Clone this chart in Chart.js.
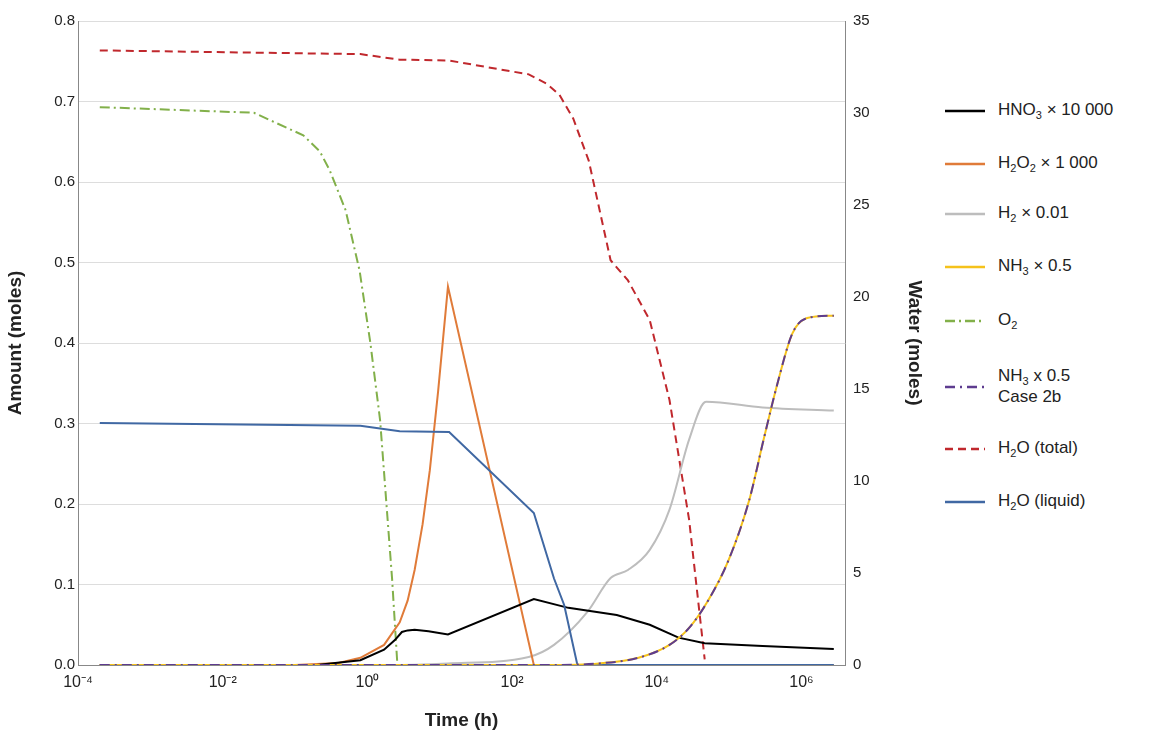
<!DOCTYPE html>
<html>
<head>
<meta charset="utf-8">
<script src="https://cdn.jsdelivr.net/npm/chart.js@4"></script>
<style>
  body { margin: 0; background: #fff; font-family: "Liberation Sans", Arial, sans-serif; }
  #wrap { position: relative; width: 1155px; height: 736px; }
  #c { position: absolute; left: 0; top: 0; }
  .leg { position: absolute; left: 945px; font-size: 17px; color: #222; display: flex; align-items: center; }
  .leg svg { margin-right: 13px; }
  sub { font-size: 11px; }
</style>
</head>
<body>
<div id="wrap">
  <canvas id="c" width="930" height="736"></canvas>
  <div id="legend"></div>
</div>
<script>
// [time (h), value]
const hno3 = [[2e-4,0],[0.2,0],[0.8,0.006],[1.7,0.019],[2.4,0.031],[3,0.041],[3.6,0.043],[4.5,0.0438],[7,0.042],[13,0.038],[200,0.082],[600,0.071],[2800,0.062],[8000,0.05],[20000,0.034],[46000,0.027],[290000,0.0236],[2.8e6,0.02]];
const h2o2 = [[2e-4,0],[0.1,0],[0.4,0.0025],[0.8,0.009],[1.7,0.025],[2.8,0.053],[3.6,0.08],[4.5,0.118],[5.8,0.175],[7.3,0.242],[9.5,0.34],[13,0.47],[200,0],[2.8e6,0]];
const h2 = [[2e-4,0],[2,0],[13,0.002],[170,0.01],[380,0.025],[1100,0.066],[2300,0.108],[4000,0.118],[8000,0.143],[15000,0.193],[28000,0.28],[48000,0.327],[290000,0.32],[2.8e6,0.316]];
const nh3 = [[2e-4,0],[300,0],[1600,0.002],[5600,0.009],[15000,0.025],[28000,0.046],[52000,0.081],[98000,0.13],[190000,0.205],[300000,0.28],[480000,0.354],[750000,0.412],[1.2e6,0.431],[2.8e6,0.434]];
const nh3b = nh3.map(p => [p[0], p[1]]);
const o2 = [[2e-4,0.693],[0.027,0.686],[0.13,0.658],[0.22,0.638],[0.3,0.615],[0.5,0.565],[0.78,0.49],[1.1,0.4],[1.5,0.304],[2.2,0.106],[2.6,0],[2.8e6,0]];
const h2oTotal = [[2e-4,33.4],[0.8,33.2],[2.8,32.9],[13.5,32.85],[170,32.1],[300,31.6],[450,31.0],[700,29.7],[1150,27.4],[2300,22],[4000,20.9],[8000,18.75],[15000,14.4],[28000,7.9],[46000,0.3]];
const h2oLiquid = [[2e-4,13.15],[0.8,13.0],[2.8,12.7],[13.5,12.66],[200,8.26],[380,4.7],[525,3.26],[800,0],[2.8e6,0]];
const xTicks = [1e-4,1e-2,1e0,1e2,1e4,1e6];

const sup = {"-":"⁻","0":"⁰","1":"¹","2":"²","3":"³","4":"⁴","5":"⁵","6":"⁶","7":"⁷","8":"⁸","9":"⁹"};
const pts = a => a.map(p => ({x: p[0], y: p[1]}));
const font = "'Liberation Sans', Arial, sans-serif";

const ds = (label, data, color, axis, dash, smooth) => ({
  label, data: pts(data), borderColor: color, borderWidth: 2, pointRadius: 0,
  borderDash: dash || [], yAxisID: axis,
  cubicInterpolationMode: smooth ? "monotone" : "default", tension: 0
});

// first dataset is drawn on top
new Chart(document.getElementById("c"), {
  type: "line",
  data: {
    datasets: [
      ds("NH3 2b", nh3b, "#5e3c8f", "y", [10, 5, 2, 5], true),
      ds("NH3", nh3, "#f5c21b", "y", null, true),
      ds("H2O (liquid)", h2oLiquid, "#4068a3", "y1"),
      ds("HNO3", hno3, "#000000", "y"),
      ds("H2O2", h2o2, "#e07b39", "y"),
      ds("H2", h2, "#bdbdbd", "y", null, true),
      ds("O2", o2, "#82b04a", "y", [10, 4, 2, 4]),
      ds("H2O (total)", h2oTotal, "#c0282d", "y1", [8, 5])
    ]
  },
  options: {
    responsive: false, animation: false,
    layout: { padding: { top: 21, left: 0, right: 0 } },
    plugins: { legend: { display: false }, tooltip: { enabled: false } },
    scales: {
      x: {
        type: "logarithmic", min: 1e-4, max: 4e6,
        afterBuildTicks: s => { s.ticks = xTicks.map(v => ({value: v})); },
        afterFit: s => { s.height = 71; },
        grid: { display: false, drawTicks: true, tickLength: 5 },
        border: { color: "#888" },
        ticks: {
          color: "#222", font: { size: 16, family: font },
          callback: v => "10" + String(Math.round(Math.log10(v))).split("").map(c => sup[c]).join("")
        },
        title: { display: true, text: "Time (h)", color: "#222", font: { size: 19, weight: "bold", family: font } }
      },
      y: {
        position: "left", min: 0, max: 0.8,
        afterFit: s => { s.width = 78; },
        ticks: { stepSize: 0.1, color: "#222", font: { size: 15, family: font }, callback: v => v.toFixed(1) },
        grid: { color: "#dddddd", drawTicks: false },
        border: { color: "#888" },
        title: { display: true, text: "Amount (moles)", color: "#222", font: { size: 19, weight: "bold", family: font } }
      },
      y1: {
        position: "right", min: 0, max: 35,
        afterFit: s => { s.width = 85; },
        ticks: { stepSize: 5, color: "#222", font: { size: 15, family: font } },
        grid: { display: false, drawTicks: true, tickLength: 5 },
        border: { color: "#888" },
        title: { display: true, text: "Water (moles)", color: "#222", font: { size: 19, weight: "bold", family: font } }
      }
    }
  }
});

const legendItems = [
  ["HNO<sub>3</sub> × 10 000", "#000000", "", 112],
  ["H<sub>2</sub>O<sub>2</sub> × 1 000", "#e07b39", "", 165],
  ["H<sub>2</sub> × 0.01", "#bdbdbd", "", 215],
  ["NH<sub>3</sub> × 0.5", "#f5c21b", "", 268],
  ["O<sub>2</sub>", "#82b04a", "10 4 2 4", 322],
  ["NH<sub>3</sub> x 0.5<br>Case 2b", "#5e3c8f", "10 5 2 5", 378],
  ["H<sub>2</sub>O (total)", "#c0282d", "8 5", 450],
  ["H<sub>2</sub>O (liquid)", "#4068a3", "", 503]
];
const legend = document.getElementById("legend");
legendItems.forEach(([txt, col, dash, y]) => {
  const d = document.createElement("div");
  d.className = "leg";
  d.style.top = (y - 12) + "px";
  d.innerHTML = `<svg width="40" height="4"><line x1="0" y1="2" x2="40" y2="2" stroke="${col}" stroke-width="2.5" stroke-dasharray="${dash}"/></svg><span>${txt}</span>`;
  legend.appendChild(d);
});
</script>
</body>
</html>
